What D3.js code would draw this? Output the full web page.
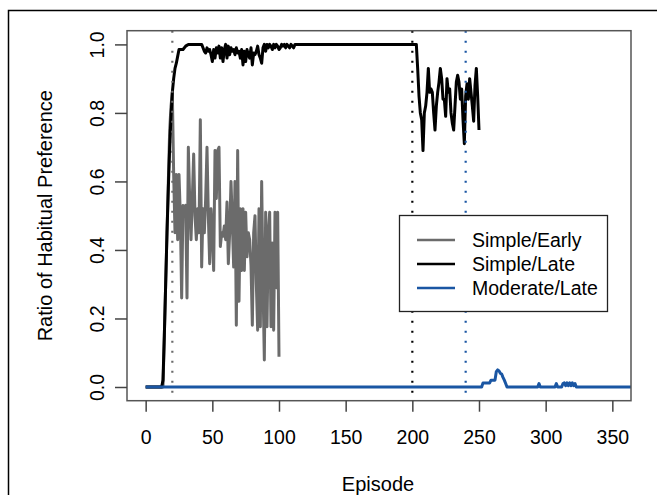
<!DOCTYPE html>
<html>
<head>
<meta charset="utf-8">
<script src="https://cdn.jsdelivr.net/npm/d3@7"></script>
<style>
  body { margin: 0; background: #fff; }
  svg text { font-family: "Liberation Sans", Arial, Helvetica, sans-serif; }
</style>
</head>
<body>
<div id="chart"></div>
<script>
// data: [episode, ratio]
var simpleEarly = [
  [0,0],[13,0],[14,0.15],[15,0.3],[16,0.45],[17,0.6],[18,0.75],[19,0.82],[20,0.86],
  [21,0.62],[22,0.45],[23,0.62],[24,0.43],[25,0.62],[26,0.5],[27,0.26],[28,0.53],
  [29,0.52],[30,0.53],[31,0.26],[32,0.70],[33,0.55],[34,0.43],[35,0.55],[36,0.68],
  [37,0.5],[38,0.43],[39,0.52],[40,0.45],[41,0.78],[42,0.35],[43,0.52],[44,0.45],
  [45,0.55],[46,0.70],[47,0.5],[48,0.36],[49,0.52],[50,0.45],[51,0.34],[52,0.69],
  [53,0.55],[54,0.69],[55,0.70],[56,0.41],[57,0.45],[58,0.44],[59,0.47],[60,0.43],
  [61,0.54],[62,0.36],[63,0.45],[64,0.60],[65,0.48],[66,0.35],[67,0.60],[68,0.18],
  [69,0.69],[70,0.25],[71,0.52],[72,0.34],[73,0.52],[74,0.34],[75,0.51],[76,0.38],
  [77,0.45],[78,0.43],[79,0.355],[80,0.18],[81,0.45],[82,0.50],[83,0.3],[84,0.166],
  [85,0.52],[86,0.176],[87,0.60],[88,0.3],[89,0.079],[90,0.51],[91,0.176],[92,0.45],
  [93,0.51],[94,0.176],[95,0.42],[96,0.166],[97,0.51],[98,0.29],[99,0.51],[100,0.088]
];

var simpleLate = [
  [0,0],[12,0],[13,0.02],[14,0.15],[15,0.3],[16,0.45],[17,0.58],[18,0.7],[19,0.79],
  [20,0.86],[21,0.9],[22,0.93],[23,0.945],[24,0.965],[25,0.985],[28,0.985],[30,0.995],
  [32,1],[42,1],[43,0.99],[44,0.98],[45,0.975],[46,0.99],[47,0.98],[48,0.985],
  [49,0.97],[50,0.95],[51,0.985],[52,0.96],[53,0.99],[54,0.975],[55,0.995],[56,0.96],
  [57,0.99],[58,0.95],[59,0.985],[60,1],[61,0.96],[62,0.995],[63,0.97],[64,0.99],
  [65,0.98],[66,0.985],[67,0.97],[68,0.99],[69,0.975],[70,0.98],[71,0.96],[72,0.985],
  [73,0.94],[74,0.98],[75,0.95],[76,0.985],[77,0.97],[78,0.96],[79,0.99],[80,0.94],
  [81,0.975],[82,0.97],[83,0.98],[84,0.995],[85,0.97],[86,0.96],[87,0.945],[88,0.99],
  [89,1],[90,0.98],[91,1],[92,0.99],[93,1],[94,0.995],[95,0.985],[96,1],[97,0.99],
  [98,1],[99,0.995],[100,0.985],[101,0.99],[102,1],[103,0.995],[104,1],[105,0.99],
  [106,1],[108,0.99],[109,1],[111,0.99],[112,1],[203,1],[204,0.93],[205,0.85],
  [206,0.8],[207,0.78],[208,0.69],[209,0.8],[210,0.82],[211,0.86],[212,0.93],
  [213,0.86],[214,0.87],[215,0.86],[216,0.8],[217,0.75],[218,0.82],[219,0.86],
  [220,0.89],[221,0.93],[222,0.9],[223,0.84],[224,0.84],[225,0.79],[226,0.9],
  [227,0.86],[228,0.87],[229,0.8],[230,0.77],[231,0.75],[232,0.82],[233,0.89],
  [234,0.91],[235,0.89],[236,0.84],[237,0.87],[238,0.78],[239,0.71],[240,0.85],
  [241,0.885],[242,0.84],[243,0.9],[244,0.86],[245,0.82],[246,0.776],[247,0.88],
  [248,0.93],[249,0.85],[250,0.75]
];

var moderateLate = [
  [0,0],[252,0],[253,0.012],[258,0.012],[259,0.02],[262,0.02],[263,0.045],[264,0.05],
  [265,0.047],[266,0.04],[267,0.038],[268,0.028],[269,0.02],[270,0.01],[271,0],
  [294,0],[295,0.01],[296,0],[307,0],[308,0.01],[309,0],[312,0],[313,0.01],[314,0.012],
  [315,0.004],[316,0.012],[317,0.004],[318,0.012],[319,0.004],[320,0.012],[321,0.004],
  [322,0.01],[323,0],[366,0]
];

var seriesNames = ["Simple/Early", "Simple/Late", "Moderate/Late"];
var dividers = [20, 200, 240];
var xTicks = [0, 50, 100, 150, 200, 250, 300, 350];
var yTicks = [0, 0.2, 0.4, 0.6, 0.8, 1.0];

var colors = ["#6b6b6b", "#000000", "#1a56a3"];
var chart = {width: 657, height: 495};
var box = {left: 127, right: 631, top: 30.7, bottom: 400.7};
var fontSize = "19.5px";

var svg = d3.select("#chart").append("svg")
  .attr("width", chart.width)
  .attr("height", chart.height);

// outer frame
svg.append("path")
  .attr("d", "M8.5," + chart.height + "V10.5H" + chart.width)
  .attr("fill", "none")
  .attr("stroke", "#000")
  .attr("stroke-width", 1.5);

var x = d3.scaleLinear().domain([-14, 364]).range([box.left, box.right]);
var y = d3.scaleLinear().domain([-0.04, 1.04]).range([box.bottom, box.top]);

svg.append("clipPath").attr("id", "clip")
  .append("rect")
  .attr("x", box.left).attr("y", box.top)
  .attr("width", box.right - box.left).attr("height", box.bottom - box.top);

var line = d3.line().x(d => x(d[0])).y(d => y(d[1]));
var plot = svg.append("g").attr("clip-path", "url(#clip)");

[simpleEarly, simpleLate, moderateLate].forEach((s, i) => {
  plot.append("path")
    .datum(s)
    .attr("d", line)
    .attr("fill", "none")
    .attr("stroke", colors[i])
    .attr("stroke-width", 3)
    .attr("stroke-linejoin", "round");
});

plot.selectAll(".divider")
  .data(dividers)
  .enter()
  .append("line")
  .attr("class", "divider")
  .attr("x1", d => x(d)).attr("x2", d => x(d))
  .attr("y1", box.top).attr("y2", box.bottom)
  .attr("stroke", (d, i) => colors[i])
  .attr("stroke-width", 2.2)
  .attr("stroke-dasharray", "2,8");

// box
svg.append("rect")
  .attr("x", box.left).attr("y", box.top)
  .attr("width", box.right - box.left).attr("height", box.bottom - box.top)
  .attr("fill", "none")
  .attr("stroke", "#555")
  .attr("stroke-width", 1.5);

var xAxis = svg.append("g")
  .attr("transform", "translate(0," + box.bottom + ")")
  .call(d3.axisBottom(x).tickValues(xTicks).tickSize(11).tickPadding(18).tickFormat(d3.format("d")));
xAxis.select(".domain").remove();
xAxis.selectAll("line").attr("stroke", "#444").attr("stroke-width", 1.5);
xAxis.selectAll("text").attr("fill", "#000").style("font-size", fontSize)
  .style("font-family", "Liberation Sans, Arial, sans-serif");

var yAxis = svg.append("g")
  .attr("transform", "translate(" + box.left + ",0)")
  .call(d3.axisLeft(y).tickValues(yTicks).tickSize(12).tickFormat(d3.format(".1f")));
yAxis.select(".domain").remove();
yAxis.selectAll("line").attr("stroke", "#444").attr("stroke-width", 1.5);
yAxis.selectAll("text")
  .attr("x", 0).attr("dy", 0)
  .attr("text-anchor", "middle")
  .attr("transform", "translate(-23.5,0) rotate(-90)")
  .attr("fill", "#000")
  .style("font-size", fontSize)
  .style("font-family", "Liberation Sans, Arial, sans-serif");

svg.append("text")
  .attr("x", (box.left + box.right) / 2 - 1)
  .attr("y", 491)
  .attr("text-anchor", "middle")
  .style("font-size", "20px")
  .text("Episode");

svg.append("text")
  .attr("transform", "translate(52," + (box.top + box.bottom) / 2 + ") rotate(-90)")
  .attr("text-anchor", "middle")
  .style("font-size", "20px")
  .text("Ratio of Habitual Preference");

// legend
var legend = svg.append("g");
legend.append("rect")
  .attr("x", 399.5).attr("y", 215.5)
  .attr("width", 208).attr("height", 96)
  .attr("fill", "#fff")
  .attr("stroke", "#222")
  .attr("stroke-width", 1.3);

var rows = legend.selectAll(".row")
  .data(seriesNames)
  .enter()
  .append("g")
  .attr("class", "row")
  .attr("transform", (d, i) => "translate(0," + (240 + i * 24) + ")");

rows.append("line")
  .attr("x1", 417).attr("x2", 455)
  .attr("stroke", (d, i) => colors[i])
  .attr("stroke-width", 2.6);

rows.append("text")
  .attr("x", 472)
  .attr("dy", "0.36em")
  .style("font-size", fontSize)
  .text(d => d);
</script>
</body>
</html>
